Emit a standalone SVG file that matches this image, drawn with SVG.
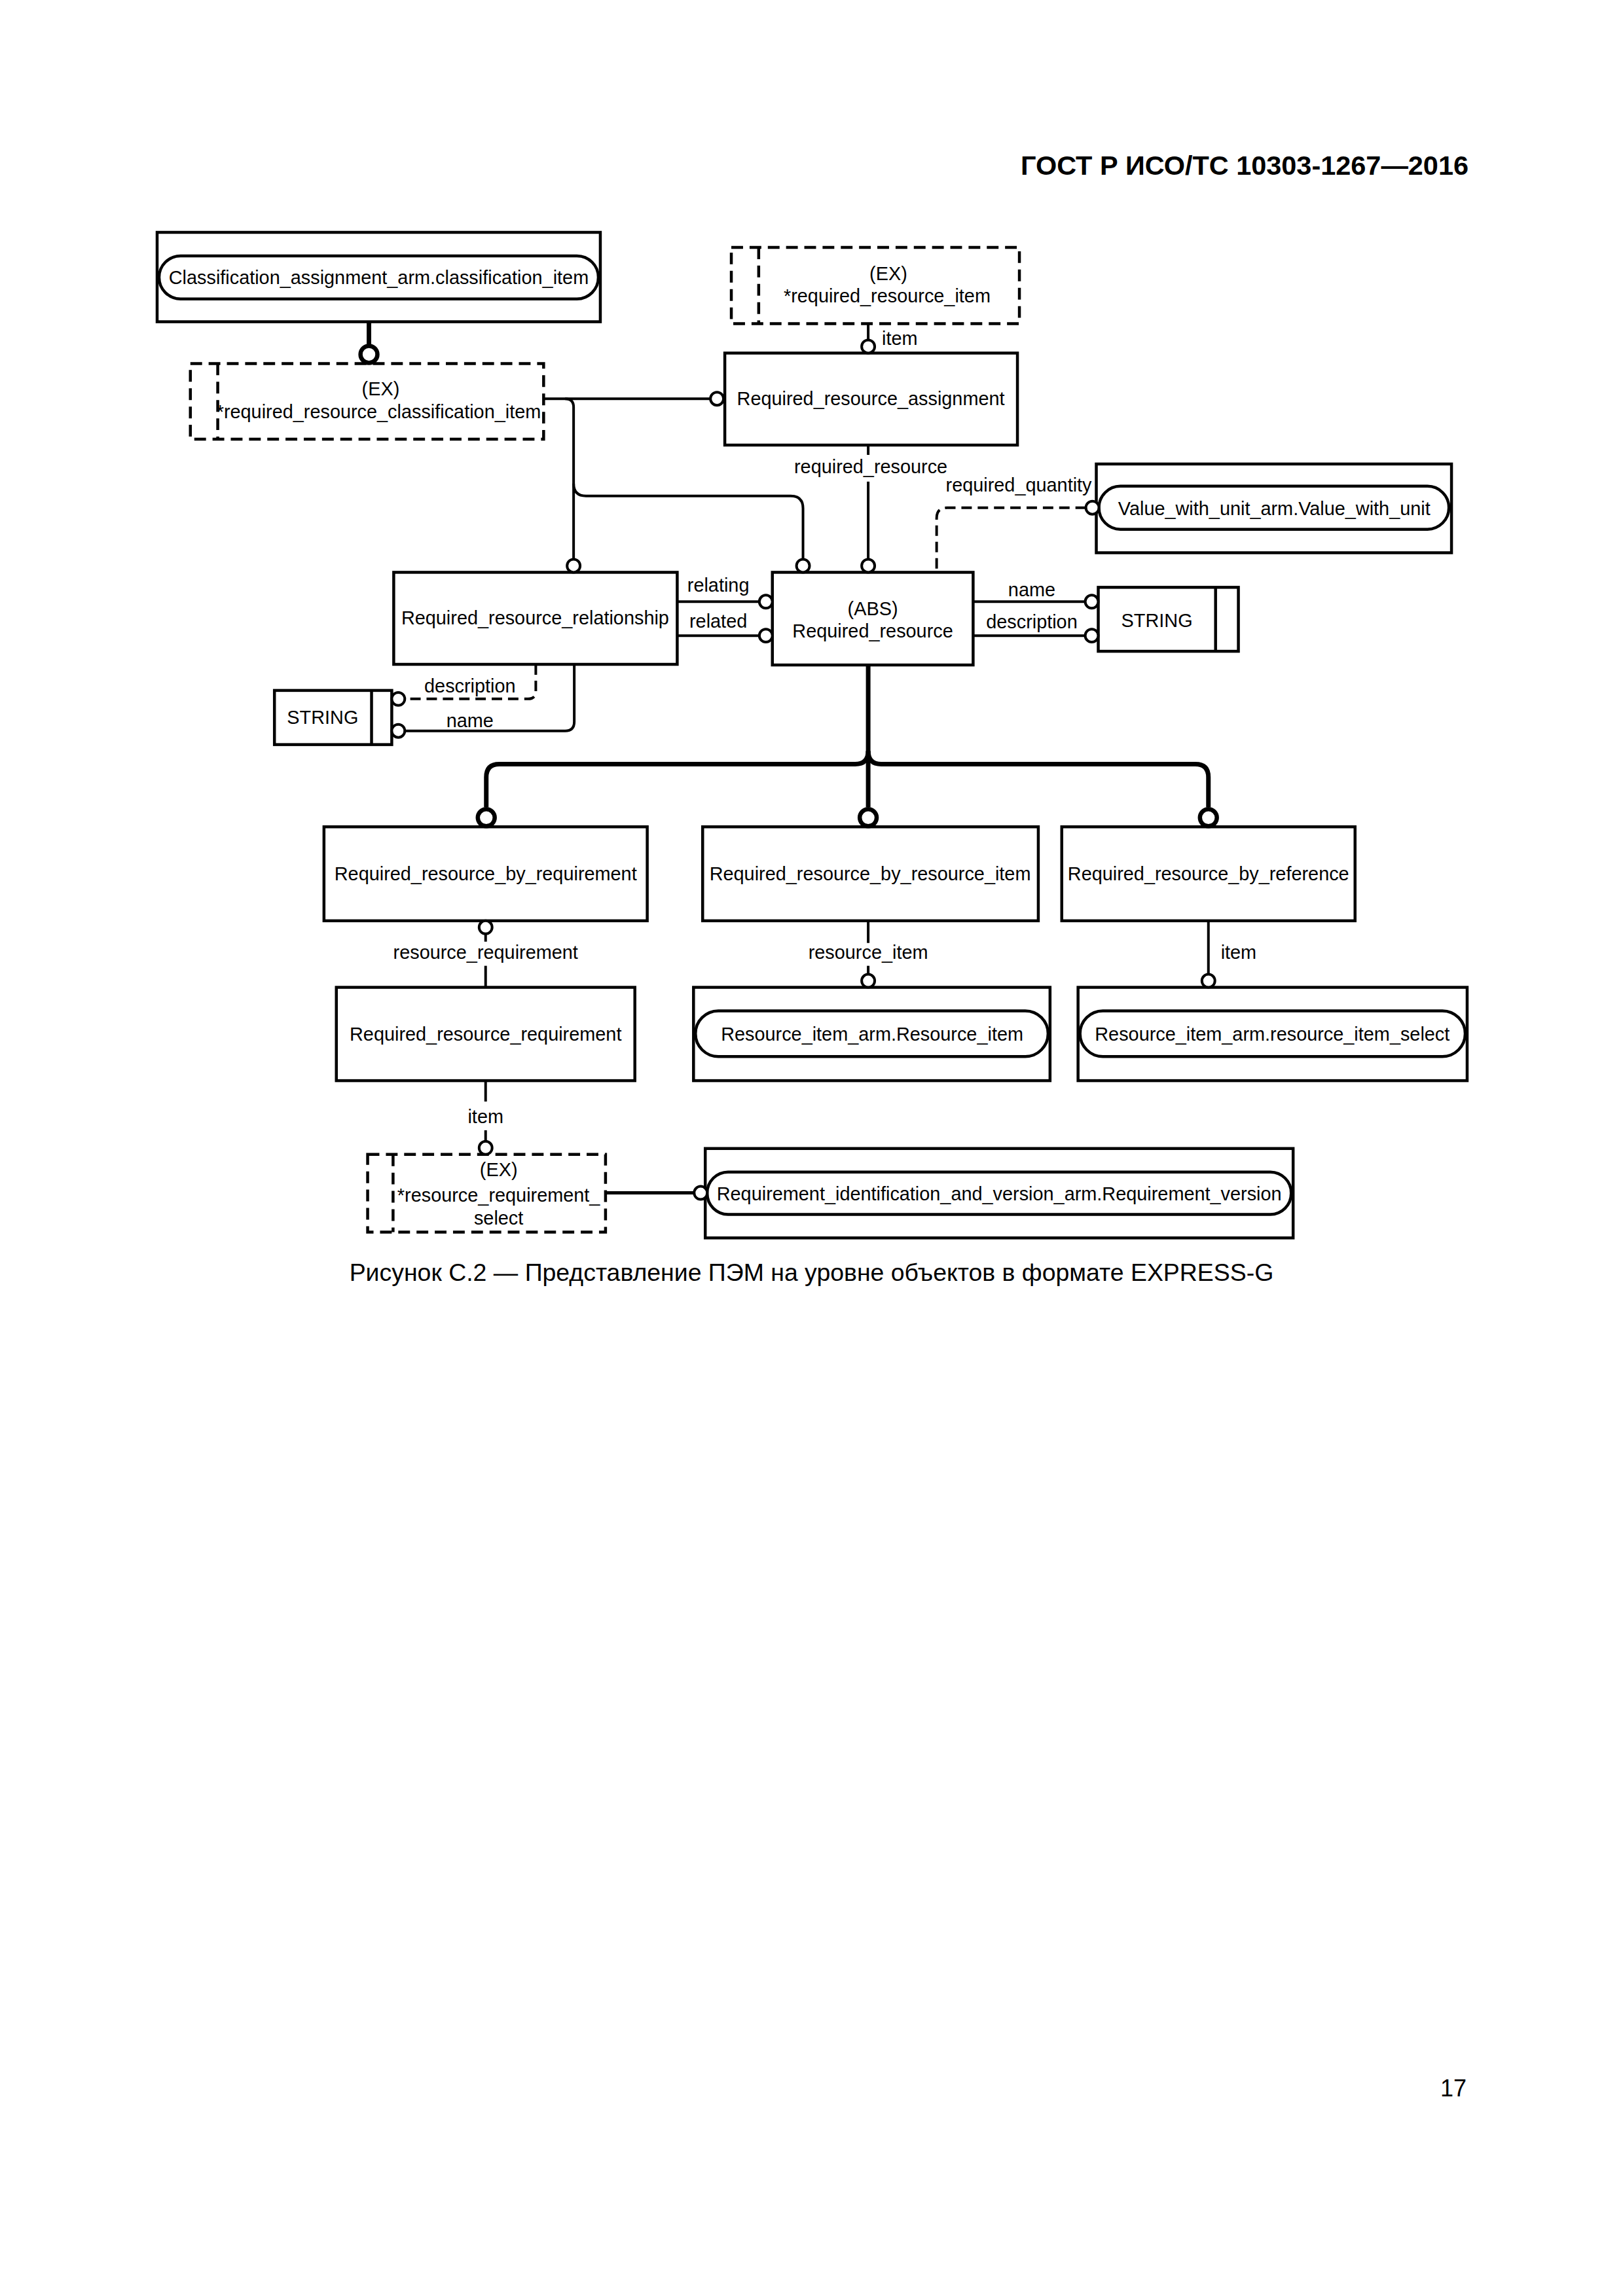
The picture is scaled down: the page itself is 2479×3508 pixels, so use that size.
<svg xmlns="http://www.w3.org/2000/svg" width="2479" height="3508" viewBox="0 0 2479 3508">
<style>
text{font-family:"Liberation Sans",Arial,sans-serif;font-size:29px;fill:#000}
.m{text-anchor:middle}
.box{fill:#fff;stroke:#000;stroke-width:4.5}
.pill{fill:#fff;stroke:#000;stroke-width:4.5}
.dbox{fill:#fff;stroke:#000;stroke-width:4.5;stroke-dasharray:18 10}
.dln{fill:none;stroke:#000;stroke-width:4.5;stroke-dasharray:18 10}
.ln{fill:none;stroke:#000;stroke-width:4}
.dl{fill:none;stroke:#000;stroke-width:4;stroke-dasharray:16 9}
.tk{fill:none;stroke:#000;stroke-width:7}
.c{fill:#fff;stroke:#000;stroke-width:4}
.ct{fill:#fff;stroke:#000;stroke-width:6.5}
</style>
<rect width="2479" height="3508" fill="#fff"/>
<text x="2243" y="267" text-anchor="end" style="font-size:41px;font-weight:bold" textLength="684" lengthAdjust="spacingAndGlyphs">ГОСТ Р ИСО/ТС 10303-1267—2016</text>

<g id="diagram" transform="translate(240,355) scale(0.9955,0.997) translate(-240,-355)">
<g id="classification_item">
<rect class="box" x="240" y="355" width="680" height="137"/>
<rect class="pill" x="243" y="391" width="674" height="66" rx="33"/>
<text class="m" x="580" y="434">Classification_assignment_arm.classification_item</text>
</g>
<g id="required_resource_classification_item">
<rect class="dbox" x="291" y="556" width="542" height="116"/>
<line class="dln" x1="333" y1="556" x2="333" y2="672"/>
<text class="m" x="583" y="605">(EX)</text>
<text class="m" x="580" y="640">*required_resource_classification_item</text>
</g>
<g id="required_resource_item">
<rect class="dbox" x="1121" y="378" width="442" height="117"/>
<line class="dln" x1="1163" y1="378" x2="1163" y2="495"/>
<text class="m" x="1362" y="428">(EX)</text>
<text class="m" x="1360" y="462">*required_resource_item</text>
</g>
<g id="required_resource_assignment">
<rect class="box" x="1111" y="540" width="449" height="141"/>
<text class="m" x="1335" y="620">Required_resource_assignment</text>
</g>
<g id="value_with_unit">
<rect class="box" x="1681" y="710" width="545" height="136"/>
<rect class="pill" x="1685" y="744" width="537" height="66" rx="33"/>
<text class="m" x="1954" y="788">Value_with_unit_arm.Value_with_unit</text>
</g>
<g id="required_resource">
<rect class="box" x="1184" y="876" width="308" height="142"/>
<text class="m" x="1338" y="942">(ABS)</text>
<text class="m" x="1338" y="976">Required_resource</text>
</g>
<g id="string_right">
<rect class="box" x="1684" y="899" width="215" height="98"/>
<line class="ln" x1="1864" y1="899" x2="1864" y2="997" style="stroke-width:4.5"/>
<text class="m" x="1774" y="960">STRING</text>
</g>
<g id="required_resource_relationship">
<rect class="box" x="603" y="876" width="435" height="141"/>
<text class="m" x="820" y="956">Required_resource_relationship</text>
</g>
<g id="string_left">
<rect class="box" x="420" y="1057" width="180" height="83"/>
<line class="ln" x1="569" y1="1057" x2="569" y2="1140" style="stroke-width:4.5"/>
<text class="m" x="494" y="1108">STRING</text>
</g>
<g id="required_resource_by_requirement">
<rect class="box" x="496" y="1266" width="496" height="144"/>
<text class="m" x="744" y="1348">Required_resource_by_requirement</text>
</g>
<g id="required_resource_by_resource_item">
<rect class="box" x="1077" y="1266" width="515" height="144"/>
<text class="m" x="1334" y="1348">Required_resource_by_resource_item</text>
</g>
<g id="required_resource_by_reference">
<rect class="box" x="1628" y="1266" width="450" height="144"/>
<text class="m" x="1853" y="1348">Required_resource_by_reference</text>
</g>
<g id="required_resource_requirement">
<rect class="box" x="515" y="1512" width="458" height="143"/>
<text class="m" x="744" y="1594">Required_resource_requirement</text>
</g>
<g id="resource_item">
<rect class="box" x="1063" y="1512" width="547" height="143"/>
<rect class="pill" x="1066" y="1548" width="541" height="70" rx="35"/>
<text class="m" x="1337" y="1594">Resource_item_arm.Resource_item</text>
</g>
<g id="resource_item_select">
<rect class="box" x="1653" y="1512" width="597" height="143"/>
<rect class="pill" x="1656" y="1548" width="591" height="70" rx="35"/>
<text class="m" x="1951" y="1594">Resource_item_arm.resource_item_select</text>
</g>
<g id="resource_requirement_select">
<rect class="dbox" x="563" y="1768" width="365" height="119"/>
<line class="dln" x1="602" y1="1768" x2="602" y2="1887"/>
<text class="m" x="764" y="1801">(EX)</text>
<text class="m" x="764" y="1840">*resource_requirement_</text>
<text class="m" x="764" y="1876">select</text>
</g>
<g id="requirement_version">
<rect class="box" x="1081" y="1759" width="902" height="137"/>
<rect class="pill" x="1084" y="1795" width="896" height="65" rx="32"/>
<text class="m" x="1532" y="1838">Requirement_identification_and_version_arm.Requirement_version</text>
</g>

<g id="connectors">
<line class="tk" x1="565" y1="492" x2="565" y2="528"/>
<circle class="ct" cx="565" cy="542" r="13"/>
<path class="ln" d="M833,610 H1089"/>
<path class="ln" d="M866,610 Q879,610 879,623 V856"/>
<path class="ln" d="M879,740 Q879,759 898,759 H1212 Q1231,759 1231,778 V856"/>
<circle class="c" cx="1099" cy="610" r="10"/>
<circle class="c" cx="879" cy="866" r="10"/>
<circle class="c" cx="1231" cy="866" r="10"/>
<line class="ln" x1="1331" y1="495" x2="1331" y2="520"/>
<circle class="c" cx="1331" cy="530" r="10"/>
<text x="1352" y="528">item</text>
<line class="ln" x1="1331" y1="681" x2="1331" y2="696"/>
<line class="ln" x1="1331" y1="737" x2="1331" y2="856"/>
<circle class="c" cx="1331" cy="866" r="10"/>
<text class="m" x="1335" y="724">required_resource</text>
<path class="dl" d="M1665,777 H1452 Q1436,777 1436,793 V876"/>
<circle class="c" cx="1675" cy="777" r="10"/>
<text x="1450" y="752">required_quantity</text>
<line class="ln" x1="1492" y1="921" x2="1664" y2="921"/>
<line class="ln" x1="1492" y1="973" x2="1664" y2="973"/>
<circle class="c" cx="1674" cy="921" r="10"/>
<circle class="c" cx="1674" cy="973" r="10"/>
<text class="m" x="1582" y="913">name</text>
<text class="m" x="1582" y="962">description</text>
<line class="ln" x1="1038" y1="921" x2="1164" y2="921"/>
<line class="ln" x1="1038" y1="973" x2="1164" y2="973"/>
<circle class="c" cx="1174" cy="921" r="10"/>
<circle class="c" cx="1174" cy="973" r="10"/>
<text class="m" x="1101" y="906">relating</text>
<text class="m" x="1101" y="961">related</text>
<path class="dl" d="M821,1017 V1058 Q821,1070 809,1070 H620"/>
<path class="ln" d="M880,1017 V1105 Q880,1119 866,1119 H620"/>
<circle class="c" cx="610" cy="1070" r="10"/>
<circle class="c" cx="610" cy="1119" r="10"/>
<text class="m" x="720" y="1060">description</text>
<text class="m" x="720" y="1113">name</text>
<path class="tk" d="M1331,1018 V1236"/>
<path class="tk" d="M1331,1150 Q1331,1170 1311,1170 H765 Q745,1170 745,1190 V1236"/>
<path class="tk" d="M1331,1150 Q1331,1170 1351,1170 H1833 Q1853,1170 1853,1190 V1236"/>
<circle class="ct" cx="745" cy="1252" r="13"/>
<circle class="ct" cx="1331" cy="1252" r="13"/>
<circle class="ct" cx="1853" cy="1252" r="13"/>
<circle class="c" cx="744" cy="1420" r="10"/>
<line class="ln" x1="744" y1="1430" x2="744" y2="1442"/>
<line class="ln" x1="744" y1="1479" x2="744" y2="1512"/>
<text class="m" x="744" y="1468">resource_requirement</text>
<line class="ln" x1="1331" y1="1410" x2="1331" y2="1444"/>
<line class="ln" x1="1331" y1="1479" x2="1331" y2="1492"/>
<circle class="c" cx="1331" cy="1502" r="10"/>
<text class="m" x="1331" y="1468">resource_item</text>
<line class="ln" x1="1853" y1="1410" x2="1853" y2="1492"/>
<circle class="c" cx="1853" cy="1502" r="10"/>
<text x="1872" y="1468">item</text>
<line class="ln" x1="744" y1="1655" x2="744" y2="1687"/>
<line class="ln" x1="744" y1="1731" x2="744" y2="1748"/>
<circle class="c" cx="744" cy="1758" r="10"/>
<text class="m" x="744" y="1720">item</text>
<line class="ln" x1="928" y1="1827" x2="1064" y2="1827" style="stroke-width:5"/>
<circle class="c" cx="1074" cy="1827" r="10"/>
</g>

<text class="m" x="1244" y="1962" style="font-size:37px" textLength="1418" lengthAdjust="spacingAndGlyphs">Рисунок С.2 — Представление ПЭМ на уровне объектов в формате EXPRESS-G</text>
</g>
<text x="2240" y="3203" text-anchor="end" style="font-size:36px">17</text>
</svg>
